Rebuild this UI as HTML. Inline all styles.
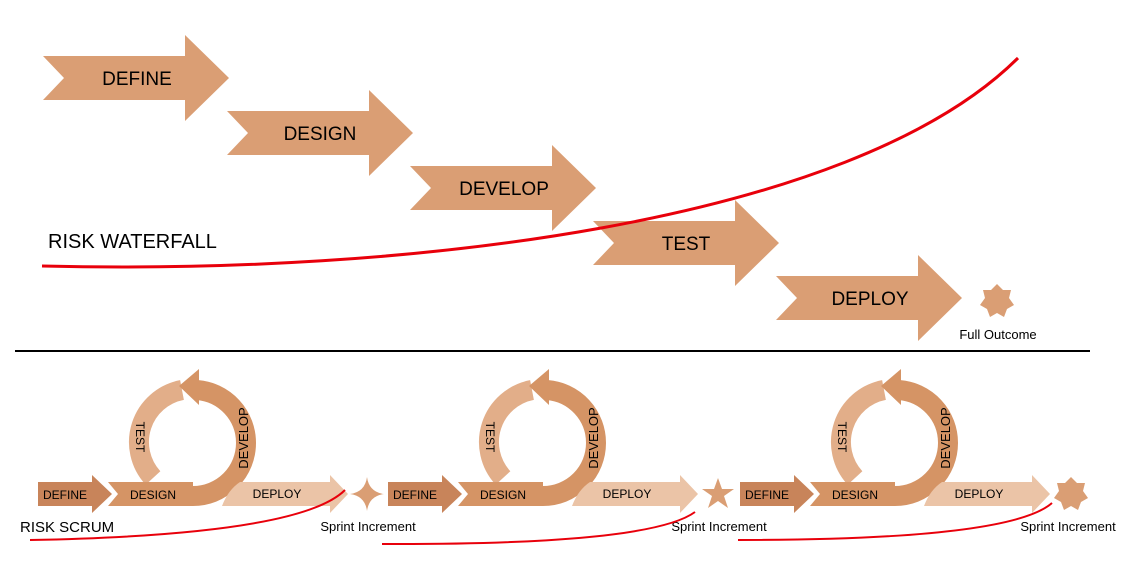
<!DOCTYPE html>
<html><head><meta charset="utf-8"><style>
html,body{margin:0;padding:0;background:#fff;}
svg{display:block;font-family:"Liberation Sans",sans-serif;}
</style></head><body>
<svg width="1134" height="570" viewBox="0 0 1134 570" xmlns="http://www.w3.org/2000/svg">
<defs>
<polygon id="wa" points="0,0 142,0 142,-21 186,22 142,65 142,44 0,44 21,22" fill="#da9e74"/>
<g id="ring">
  <path d="M182 390 A53 53 0 0 0 153 478" fill="none" stroke="#e2ae89" stroke-width="20"/>
  <polygon points="38,482 92,482 92,475 112,494 92,513 92,506 38,506" fill="#c8845a"/>
  <polygon points="108,482 193,482 193,506 108,506 118,494" fill="#d59465"/>
  <path d="M193 496 A53 53 0 0 0 246 443 A53 53 0 0 0 197 390" fill="none" stroke="#d59465" stroke-width="20"/>
  <polygon points="199,369 179,386 199,405" fill="#d59465"/>
  <path d="M222 506 Q228 490 240 482 L330 482 L330 475 L348 494 L330 513 L330 506 Z" fill="#ebc4a7"/>
</g>
</defs>

<use href="#wa" x="43" y="56"/>
<use href="#wa" x="227" y="111"/>
<use href="#wa" x="410" y="166"/>
<use href="#wa" x="593" y="221"/>
<use href="#wa" x="776" y="276"/>
<g font-size="19" fill="#000" text-anchor="middle">
<text x="137" y="85">DEFINE</text>
<text x="320" y="140">DESIGN</text>
<text x="504" y="195">DEVELOP</text>
<text x="686" y="250">TEST</text>
<text x="870" y="305">DEPLOY</text>
</g>
<text x="48" y="248" font-size="20">RISK WATERFALL</text>
<path d="M42 266 C400 275 850 225 1018 58" fill="none" stroke="#e8000b" stroke-width="3"/>
<polygon fill="#da9e74" transform="translate(997,301)" points="0,-17 6,-11 14,-11 12,-3 17,4 10,8 7,16 0,12 -7,16 -10,8 -17,4 -12,-3 -14,-11 -6,-11"/>
<text x="998" y="339" font-size="13" text-anchor="middle">Full Outcome</text>
<line x1="15" y1="351" x2="1090" y2="351" stroke="#000" stroke-width="2"/>

<use href="#ring" x="0" y="0"/>
<use href="#ring" x="350" y="0"/>
<use href="#ring" x="702" y="0"/>
<g font-size="12" fill="#000">
<text x="65" y="499" text-anchor="middle">DEFINE</text>
<text x="153" y="499" text-anchor="middle">DESIGN</text>
<text x="277" y="498" text-anchor="middle">DEPLOY</text>
<text transform="translate(136,437) rotate(90)" text-anchor="middle">TEST</text>
<text transform="translate(248,438) rotate(-90)" text-anchor="middle" font-size="13">DEVELOP</text>

<text x="415" y="499" text-anchor="middle">DEFINE</text>
<text x="503" y="499" text-anchor="middle">DESIGN</text>
<text x="627" y="498" text-anchor="middle">DEPLOY</text>
<text transform="translate(486,437) rotate(90)" text-anchor="middle">TEST</text>
<text transform="translate(598,438) rotate(-90)" text-anchor="middle" font-size="13">DEVELOP</text>

<text x="767" y="499" text-anchor="middle">DEFINE</text>
<text x="855" y="499" text-anchor="middle">DESIGN</text>
<text x="979" y="498" text-anchor="middle">DEPLOY</text>
<text transform="translate(838,437) rotate(90)" text-anchor="middle">TEST</text>
<text transform="translate(950,438) rotate(-90)" text-anchor="middle" font-size="13">DEVELOP</text>
</g>
<path fill="#da9e74" d="M367 477 Q369 492 384 494 Q369 496 367 511 Q365 496 350 494 Q365 492 367 477Z"/>
<polygon fill="#da9e74" points="718,478 722,489 734,489 724,496 728,508 718,501 708,508 712,496 702,489 714,489"/>
<polygon fill="#da9e74" transform="translate(1071,494)" points="0,-17 6,-11 14,-11 12,-3 17,4 10,8 7,16 0,12 -7,16 -10,8 -17,4 -12,-3 -14,-11 -6,-11"/>
<g font-size="13" text-anchor="middle">
<text x="368" y="531">Sprint Increment</text>
<text x="719" y="531">Sprint Increment</text>
<text x="1068" y="531">Sprint Increment</text>
</g>
<text x="20" y="532" font-size="15">RISK SCRUM</text>
<g fill="none" stroke="#e8000b" stroke-width="2">
<path d="M30 540 Q300 535 345 490"/>
<path d="M382 544 Q650 545 695 512"/>
<path d="M738 540 Q1010 540 1052 503"/>
</g>
</svg>
</body></html>
